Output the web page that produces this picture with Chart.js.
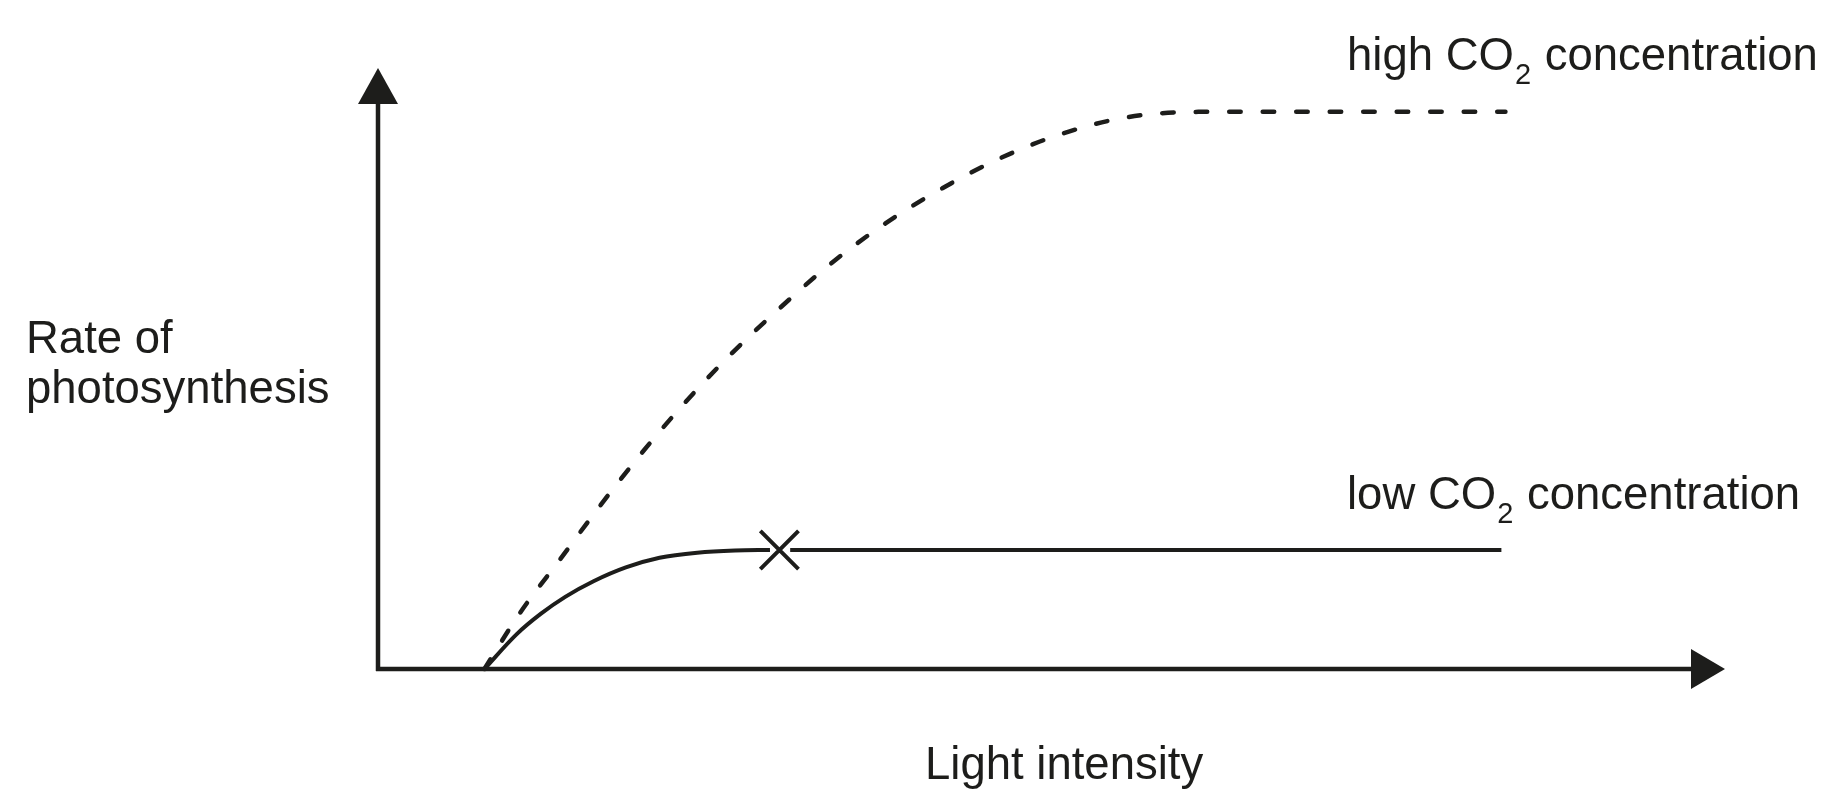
<!DOCTYPE html>
<html>
<head>
<meta charset="utf-8">
<script src="https://cdn.jsdelivr.net/npm/chart.js@4"></script>
<style>
  html, body { margin: 0; padding: 0; background: #ffffff; }
  #wrap { width: 1846px; height: 811px; position: relative; }
</style>
</head>
<body>
<div id="wrap"><canvas id="c" width="1846" height="811"></canvas></div>
<script>
// ---- data (arbitrary units: light intensity 0-100, rate 0-100) ----
const highLight = [7.9, 10.5, 13.5, 16.5, 19.6, 22.9, 26.3, 30.0, 33.7, 37.7, 41.9, 46.2, 50.7, 55.6, 60.9, 83.7];
const highRate  = [0,   9.2, 18.2, 27.2, 36.0, 44.6, 52.6, 60.4, 67.6, 74.2, 80.0, 85.0, 89.0, 91.8, 92.7, 92.7];
const lowLight  = [7.9, 10.3, 12.1, 13.9, 16.0, 18.4, 20.9, 23.7, 26.5, 29.1, 29.8, 30.6, 83.4];
const lowRate   = [0,   5.8,  9.2, 12.0, 14.6, 16.9, 18.5, 19.35, 19.72, 19.8, null, 19.8, 19.8];
const markerLight = [29.8];
const markerRate  = [19.8];
const axisLabels = { x: 'Light intensity', y: ['Rate of', 'photosynthesis'] };
const seriesLabels = [
  { pre: 'high CO', sub: '2', post: ' concentration' },
  { pre: 'low CO',  sub: '2', post: ' concentration' }
];

const INK = '#1d1d1b';
const FONT = '"Liberation Sans", Arial, Helvetica, sans-serif';

const zip = (xs, ys) => xs.map((x, i) => ({ x: x, y: ys[i] }));

const overlay = {
  id: 'overlay',
  afterDatasetsDraw(chart) {
    const ctx = chart.ctx;
    const a = chart.chartArea;
    ctx.save();
    ctx.strokeStyle = INK;
    ctx.fillStyle = INK;
    ctx.lineWidth = 4.5;
    ctx.lineCap = 'butt';
    // y axis
    ctx.beginPath();
    ctx.moveTo(a.left, a.bottom + 2);
    ctx.lineTo(a.left, a.top + 36);
    ctx.stroke();
    ctx.beginPath();
    ctx.moveTo(a.left, a.top);
    ctx.lineTo(a.left + 20, a.top + 36);
    ctx.lineTo(a.left - 20, a.top + 36);
    ctx.closePath();
    ctx.fill();
    // x axis
    ctx.beginPath();
    ctx.moveTo(a.left - 2, a.bottom);
    ctx.lineTo(a.right - 34, a.bottom);
    ctx.stroke();
    ctx.beginPath();
    ctx.moveTo(a.right, a.bottom);
    ctx.lineTo(a.right - 34, a.bottom - 20);
    ctx.lineTo(a.right - 34, a.bottom + 20);
    ctx.closePath();
    ctx.fill();

    // axis labels
    ctx.textBaseline = 'alphabetic';
    ctx.textAlign = 'left';
    ctx.font = '45.5px ' + FONT;
    ctx.fillText(axisLabels.x, 925, 779);
    ctx.fillText(axisLabels.y[0], 26, 353);
    ctx.fillText(axisLabels.y[1], 26, 403);

    // series labels with subscript
    const pos = [[1347, 70], [1347, 509]];
    seriesLabels.forEach((s, i) => {
      let [x, y] = pos[i];
      ctx.font = '45.5px ' + FONT;
      ctx.fillText(s.pre, x, y);
      x += ctx.measureText(s.pre).width + 1;
      ctx.font = '29px ' + FONT;
      ctx.fillText(s.sub, x, y + 14);
      x += ctx.measureText(s.sub).width + 1;
      ctx.font = '45.5px ' + FONT;
      ctx.fillText(s.post, x, y);
    });
    ctx.restore();
  }
};

new Chart(document.getElementById('c'), {
  type: 'scatter',
  data: {
    datasets: [
      {
        label: 'high CO2 concentration',
        data: zip(highLight, highRate),
        showLine: true,
        borderColor: INK,
        borderWidth: 4.5,
        borderDash: [11.5, 22],
        borderCapStyle: 'round',
        cubicInterpolationMode: 'monotone',
        pointRadius: 0,
        clip: false
      },
      {
        label: 'low CO2 concentration',
        data: zip(lowLight, lowRate),
        showLine: true,
        spanGaps: false,
        borderColor: INK,
        borderWidth: 4,
        cubicInterpolationMode: 'monotone',
        pointRadius: 0,
        clip: false
      },
      {
        label: 'saturation point',
        data: zip(markerLight, markerRate),
        showLine: false,
        pointStyle: 'crossRot',
        pointRadius: 27,
        pointBorderWidth: 4,
        pointBorderColor: INK,
        pointBackgroundColor: INK,
        clip: false
      }
    ]
  },
  options: {
    responsive: false,
    animation: false,
    devicePixelRatio: 1,
    layout: { padding: { left: 378, top: 68, right: 121, bottom: 142 } },
    plugins: { legend: { display: false }, tooltip: { enabled: false }, title: { display: false } },
    events: [],
    scales: {
      x: { type: 'linear', min: 0, max: 100, display: false },
      y: { type: 'linear', min: 0, max: 100, display: false }
    }
  },
  plugins: [overlay]
});
</script>
</body>
</html>
